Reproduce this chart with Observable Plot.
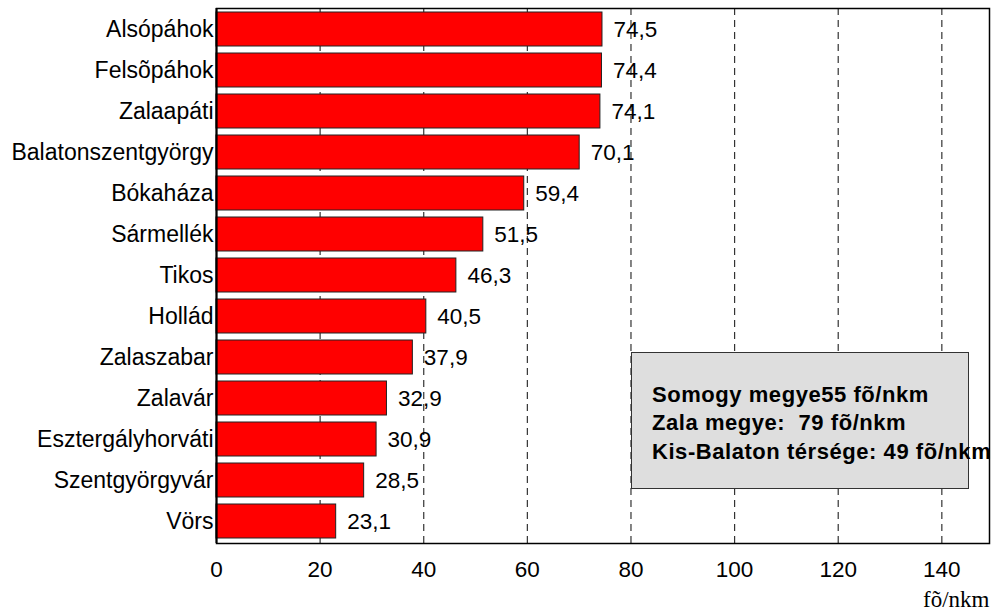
<!DOCTYPE html>
<html>
<head>
<meta charset="utf-8">
<script src="https://cdn.jsdelivr.net/npm/d3@7"></script>
<script src="https://cdn.jsdelivr.net/npm/@observablehq/plot@0.6"></script>
<style>
  html, body { margin: 0; padding: 0; background: #fff; }
  #wrap { position: relative; width: 996px; height: 610px; font-family: "Liberation Sans", Arial, sans-serif; }
  #legend {
    position: absolute; left: 631px; top: 352px; width: 336px; height: 135px;
    background: #dedede; border: 1.5px solid #333; box-sizing: content-box;
  }
  #legend div {
    position: absolute; left: 20px; white-space: pre;
    font-weight: bold; font-size: 22px; letter-spacing: 0.55px; color: #000; line-height: 1;
  }
</style>
</head>
<body>
<div id="wrap"></div>
<script>
const categories = ["Alsópáhok","Felsõpáhok","Zalaapáti","Balatonszentgyörgy","Bókaháza","Sármellék","Tikos","Hollád","Zalaszabar","Zalavár","Esztergályhorváti","Szentgyörgyvár","Vörs"];
const values = [74.5, 74.4, 74.1, 70.1, 59.4, 51.5, 46.3, 40.5, 37.9, 32.9, 30.9, 28.5, 23.1];
const xTicks = [0, 20, 40, 60, 80, 100, 120, 140];
const gridTicks = [20, 40, 60, 80, 100, 120, 140];
const legendLines = ["Somogy megye55 fõ/nkm", "Zala megye:  79 fõ/nkm", "Kis-Balaton térsége: 49 fõ/nkm"];
const unitLabel = "fõ/nkm";

const data = categories.map((c, i) => ({name: c, value: values[i]}));
const fmt = v => v.toFixed(1).replace(".", ",");

const chart = Plot.plot({
  width: 996,
  height: 610,
  marginTop: 8,
  marginBottom: 67,
  marginLeft: 216,
  marginRight: 7,
  style: {fontFamily: "Liberation Sans, Arial, sans-serif", background: "#fff", color: "#000"},
  x: {domain: [0, 149.2], ticks: xTicks, tickSize: 0, tickPadding: 18, label: null, tickFormat: d => String(d)},
  y: {domain: categories, paddingInner: 0.16, paddingOuter: 0.04, label: null},
  marks: [
    Plot.ruleX(gridTicks, {stroke: "#333", strokeWidth: 1.2, strokeDasharray: "7,5"}),
    Plot.barX(data, {x: "value", y: "name", fill: "#ff0000", stroke: "#222", strokeWidth: 1}),
    Plot.text(data, {x: "value", y: "name", text: d => fmt(d.value), dx: 11, textAnchor: "start", fontSize: 22.5, fill: "#000"}),
    Plot.axisX({ticks: xTicks, tickSize: 0, tickPadding: 18, fontSize: 22.5, label: null, tickFormat: d => String(d)}),
    Plot.axisY({tickSize: 0, tickPadding: 3, fontSize: 23, label: null}),
    Plot.frame({stroke: "#000", strokeWidth: 1.5}),
    Plot.ruleX([0], {stroke: "#000", strokeWidth: 2}),
    Plot.text([unitLabel], {frameAnchor: "bottom-right", text: d => d, textAnchor: "end", lineAnchor: "bottom", dy: 63, fontSize: 23, fontFamily: "Liberation Serif, Times New Roman, serif", fill: "#000"})
  ]
});

const wrap = document.getElementById("wrap");
wrap.appendChild(chart);
const legend = document.createElement("div");
legend.id = "legend";
legendLines.forEach((t, i) => {
  const d = document.createElement("div");
  d.textContent = t;
  d.style.top = (31 + i * 28.3) + "px";
  legend.appendChild(d);
});
wrap.appendChild(legend);
</script>
</body>
</html>
